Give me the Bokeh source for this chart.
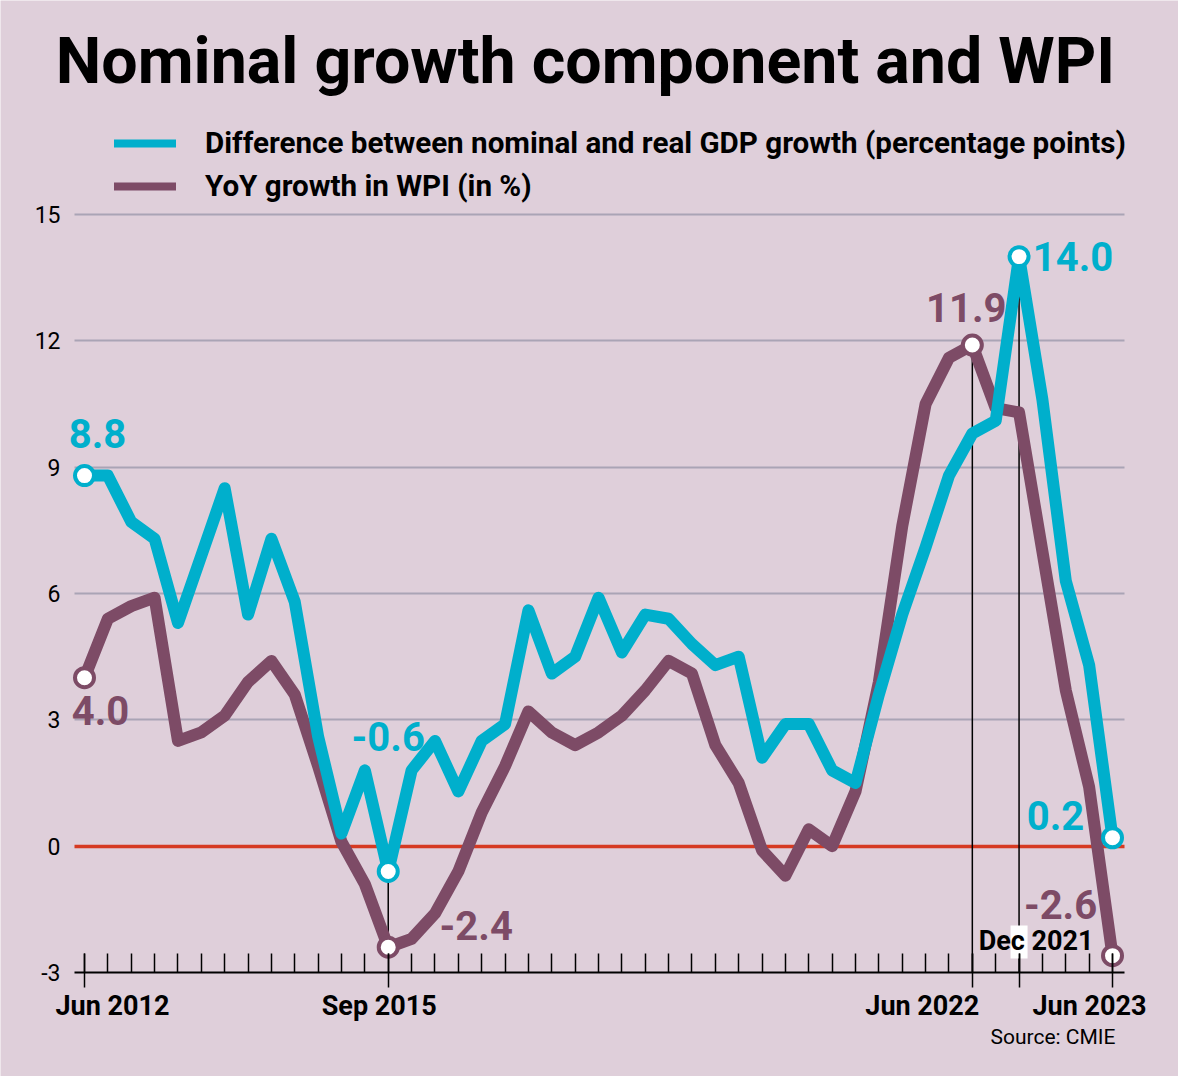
from bokeh.plotting import figure
from bokeh.models import Range1d, FixedTicker, Label, Legend, LegendItem, ColumnDataSource, Grid, LinearAxis
from bokeh.core.properties import value
from bokeh.embed import file_html
from bokeh.resources import INLINE

# ---------------- data ----------------
quarter_idx = list(range(45))  # Jun 2012 ... Jun 2023, quarterly
gdp_gap = [8.8, 8.8, 7.7, 7.3, 5.3, 6.9, 8.5, 5.5, 7.3, 5.8,
           2.6, 0.3, 1.8, -0.6, 1.8, 2.5, 1.3, 2.5, 2.9, 5.6,
           4.1, 4.5, 5.9, 4.6, 5.5, 5.4, 4.8, 4.3, 4.5, 2.1,
           2.9, 2.9, 1.8, 1.5, 3.6, 5.5, 7.1, 8.8, 9.8, 10.1,
           14.0, 10.6, 6.3, 4.3, 0.2]
wpi_growth = [4.0, 5.4, 5.7, 5.9, 2.5, 2.7, 3.1, 3.9, 4.4, 3.6,
              1.9, 0.1, -0.9, -2.4, -2.2, -1.6, -0.6, 0.8, 1.9, 3.2,
              2.7, 2.4, 2.7, 3.1, 3.7, 4.4, 4.1, 2.4, 1.5, -0.1,
              -0.7, 0.4, 0.0, 1.3, 3.9, 7.6, 10.5, 11.6, 11.9, 10.4,
              10.3, 7.0, 3.7, 1.4, -2.6]
tick_positions = [0, 13, 38, 40, 44]
tick_labels = ["Jun 2012", "Sep 2015", "Jun 2022", "Dec 2021", "Jun 2023"]
y_ticks = [-3, 0, 3, 6, 9, 12, 15]
y_tick_labels = ["-3", "0", "3", "6", "9", "12", "15"]
grid_ticks = [3, 6, 9, 12, 15]
gdp_marked = [0, 13, 40, 44]
wpi_marked = [0, 13, 38, 44]

# label offsets (screen px, y down) -- styling only
gdp_dx = [13, 0, 54, -57]
gdp_dy = [-42, -135, 0, -22]
wpi_dx = [16, 88, -6, -52]
wpi_dy = [33, -22, -38, -51]
tick_dx = [28, -9, -50, 17, -23]
tick_dy = [33, 33, 33, -32, 33]

# ---------------- style / layout ----------------
FONT = "Roboto"
BG = "#dfcfda"
CYAN = "#00afcc"
PURPLE = "#7d4b66"
GRID = "#aaa4b5"
RED = "#d63a22"

W, H = 1178, 1076
FL, FR, FB = 74, 1124, 972          # plot area left / right / bottom (px)
X0 = 84                              # px of quarter 0
PX_X = 23.364                        # px per quarter
PX_Y = 42.111                        # px per percentage point


def X(px):
    return (px - X0) / PX_X


def Y(py):
    return y_ticks[0] + (FB - py) / PX_Y


p = figure(width=W, height=H, title=None,
           x_range=Range1d(X(0), X(W)), y_range=Range1d(Y(H), Y(0)),
           x_axis_type=None, y_axis_type=None,
           output_backend="svg", toolbar_location=None, min_border=0)
p.background_fill_color = BG
p.border_fill_color = BG
p.outline_line_color = None


# horizontal grid lines + red zero line, limited to the plot area
def add_grid(ticks, color, width):
    kw = dict(dimension=1, ticker=FixedTicker(ticks=ticks), grid_line_color=color, grid_line_width=width)
    try:
        g = Grid(cross_bounds=(X(FL), X(FR)), **kw)
        ok = True
    except Exception:
        g = Grid(**kw)
        ok = False
    p.add_layout(g)
    return ok


ok1 = add_grid(grid_ticks, GRID, 2)
ok2 = add_grid([0], RED, 3.5)
if not (ok1 and ok2):
    p.quad(left=[X(0), X(FR)], right=[X(FL), X(W)], bottom=[Y(H)] * 2, top=[Y(0)] * 2,
           fill_color=BG, line_color=None)

# y axis
yaxis = LinearAxis(fixed_location=X(FL), ticker=FixedTicker(ticks=y_ticks),
                   major_label_overrides=dict(zip(y_ticks, y_tick_labels)),
                   axis_line_color=None, major_tick_line_color=None, minor_tick_line_color=None,
                   major_tick_in=0, major_tick_out=0, minor_tick_in=0, minor_tick_out=0,
                   major_label_standoff=14, major_label_text_font=FONT,
                   major_label_text_font_size="23px", major_label_text_color="black")
p.add_layout(yaxis, "left")

# x axis (ticks from the library; its labels are set beside the ticks below)
xaxis = LinearAxis(fixed_location=y_ticks[0], bounds=(X(FL), X(FR)),
                   ticker=FixedTicker(ticks=tick_positions, minor_ticks=quarter_idx),
                   major_label_overrides={pos: "" for pos in tick_positions},
                   axis_line_color="black", axis_line_width=2,
                   major_tick_line_color="black", major_tick_line_width=1.5,
                   major_tick_in=19, major_tick_out=15,
                   minor_tick_line_color="black", minor_tick_line_width=1.5,
                   minor_tick_in=19, minor_tick_out=0)
p.add_layout(xaxis, "below")

# thin reference lines
p.segment(x0=[13, 38, 40], y0=[wpi_growth[13], wpi_growth[38], gdp_gap[40]],
          x1=[13, 38, 40], y1=[gdp_gap[13], y_ticks[0], y_ticks[0]],
          line_color="black", line_width=1.5)

# white patch behind the "Dec 2021" label
p.rect(x=[tick_positions[3]], y=[y_ticks[0] + 30.5 / PX_Y], width=17, height=33,
       width_units="screen", height_units="screen", fill_color="white", line_color=None)

# tick labels
tick_src = ColumnDataSource(dict(x=tick_positions, y=[y_ticks[0]] * len(tick_positions),
                                 t=tick_labels, dx=tick_dx, dy=tick_dy))
p.text(x="x", y="y", text="t", x_offset="dx", y_offset="dy", source=tick_src,
       text_align="center", text_baseline="middle", text_font=value(FONT),
       text_font_style="bold", text_font_size="27px", text_color="black")

# series
p.line(quarter_idx, wpi_growth, line_color=PURPLE, line_width=12, line_join="round", line_cap="round")
p.line(quarter_idx, gdp_gap, line_color=CYAN, line_width=12, line_join="round", line_cap="round")

# markers
p.scatter(x=wpi_marked, y=[wpi_growth[i] for i in wpi_marked], size=19, marker="circle",
          fill_color="white", line_color=PURPLE, line_width=4)
p.scatter(x=gdp_marked, y=[gdp_gap[i] for i in gdp_marked], size=19, marker="circle",
          fill_color="white", line_color=CYAN, line_width=4)

# value labels
gdp_src = ColumnDataSource(dict(x=gdp_marked, y=[gdp_gap[i] for i in gdp_marked],
                                t=[f"{gdp_gap[i]:.1f}" for i in gdp_marked], dx=gdp_dx, dy=gdp_dy))
wpi_src = ColumnDataSource(dict(x=wpi_marked, y=[wpi_growth[i] for i in wpi_marked],
                                t=[f"{wpi_growth[i]:.1f}" for i in wpi_marked], dx=wpi_dx, dy=wpi_dy))
for src, col in ((gdp_src, CYAN), (wpi_src, PURPLE)):
    p.text(x="x", y="y", text="t", x_offset="dx", y_offset="dy", source=src,
           text_align="center", text_baseline="middle", text_font=value(FONT),
           text_font_style="bold", text_font_size="40px", text_color=col)

# legend (two one-item legends), location = bottom-left corner from frame bottom-left
leg_gdp = p.line(x=[0, 1], y=[-10, -10], line_color=CYAN, line_width=8, line_cap="round")
leg_wpi = p.line(x=[0, 1], y=[-10, -10], line_color=PURPLE, line_width=8, line_cap="round")
for rend, lab, cy in ((leg_gdp, "Difference between nominal and real GDP growth (percentage points)", 143),
                      (leg_wpi, "YoY growth in WPI (in %)", 185.5)):
    lg = Legend(items=[LegendItem(label=lab, renderers=[rend])], location=(114, H - cy - 25),
                glyph_width=62, glyph_height=50, label_height=50, label_standoff=29,
                padding=0, margin=0, border_line_color=None, background_fill_alpha=0,
                label_text_font=FONT, label_text_font_style="bold",
                label_text_font_size="29.6px", label_text_color="black")
    p.add_layout(lg)

# title and source
p.add_layout(Label(x=X(585), y=Y(60), text="Nominal growth component and WPI",
                   text_align="center", text_baseline="middle", text_font=FONT,
                   text_font_style="bold", text_font_size="64.5px", text_color="black"))
p.add_layout(Label(x=X(1115), y=Y(1036), text="Source: CMIE",
                   text_align="right", text_baseline="middle", text_font=FONT,
                   text_font_style="normal", text_font_size="21px", text_color="black"))

open("out.html", "w").write(file_html(p, INLINE))
